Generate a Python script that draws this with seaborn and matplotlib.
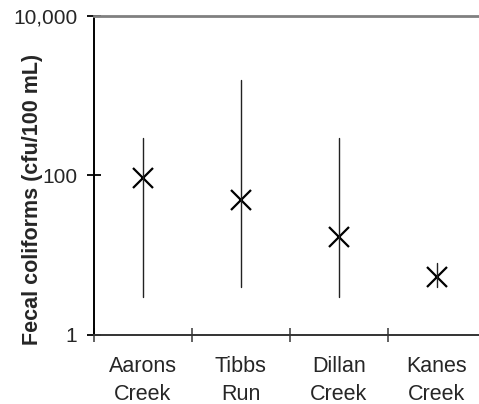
import matplotlib
matplotlib.use('Agg')
import numpy as np
import pandas as pd
import matplotlib.pyplot as plt
import seaborn as sns

sns.set_theme(style="ticks")
plt.rcParams['font.family'] = ['Liberation Sans', 'DejaVu Sans']

# data (cfu/100 mL)
sites = ["Aarons\nCreek", "Tibbs\nRun", "Dillan\nCreek", "Kanes\nCreek"]
low = [3.0, 4.0, 3.0, 4.0]
typical = [92, 50, 17, 5.4]
high = [295, 1575, 295, 8.0]
y_ticks = [1, 100, 10000]
y_tick_labels = ["1", "100", "10,000"]

# long table: median of (low, typical, high) is the marker, full range is the bar
df = pd.DataFrame({
    "site": np.repeat(sites, 3),
    "value": np.ravel(np.column_stack([low, typical, high])),
})

fig = plt.figure(figsize=(4.79, 4.04), dpi=100)
ax = fig.add_axes([0.1952, 0.1708, 0.8194, 0.7896])
ax.set_yscale("log")

sns.pointplot(
    data=df, x="site", y="value", ax=ax,
    estimator="median", errorbar=("pi", 100),
    color="black", marker="x", linestyle="none",
    markersize=15, markeredgewidth=1.6,
    err_kws={"linewidth": 1.0, "color": "#222222"},
)

ax.set_ylim(1, 10000)
ax.set_xlim(-0.5, len(sites) - 0.5)
ax.set_yticks(y_ticks)
ax.set_yticklabels(y_tick_labels)
ax.yaxis.set_minor_locator(matplotlib.ticker.NullLocator())
ax.set_xticks(np.arange(len(sites) + 1) - 0.5, minor=False)
ax.set_xticklabels([])
ax.set_xticks(np.arange(len(sites)), minor=True)
ax.set_xticklabels(sites, minor=True, fontsize=15.5, linespacing=1.45)
ax.tick_params(axis="x", which="minor", length=0, pad=15)
ax.tick_params(axis="x", which="major", direction="inout", length=10,
               width=1.3, color="#555555")
ax.tick_params(axis="y", which="major", direction="inout", length=9.5,
               width=1.3, color="black", labelsize=15, pad=7)

ax.set_xlabel("")
ax.set_ylabel("Fecal coliforms (cfu/100 mL)", fontsize=15.5, fontweight="bold")
ax.yaxis.set_label_coords(-0.128, 0.426)

ax.spines["right"].set_visible(False)
ax.spines["left"].set_color("black")
ax.spines["left"].set_linewidth(1.4)
ax.spines["bottom"].set_color("#333333")
ax.spines["bottom"].set_linewidth(1.4)
ax.spines["top"].set_color("#808080")
ax.spines["top"].set_linewidth(2.0)
ax.grid(False)

fig.savefig("out.png", dpi=100)
